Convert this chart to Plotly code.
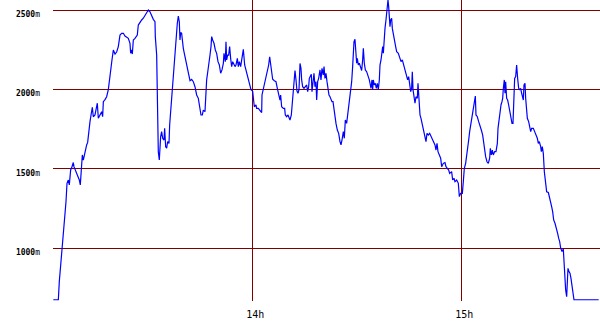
import plotly.graph_objects as go

# time in minutes after 13:00, altitude in metres
minutes = [
    2.88, 4.32, 4.60, 5.08, 5.56, 5.75, 6.04, 6.33, 6.52, 6.81, 7.19, 7.47, 7.86, 8.24, 8.62, 8.81,
    9.58, 10.35, 10.63, 10.92, 11.21, 11.49, 11.88, 12.45, 12.74, 13.03, 13.41, 13.79, 14.08, 14.36,
    14.84, 15.51, 15.80, 16.28, 16.76, 17.04, 17.24, 17.72, 18.19, 18.67, 18.96, 19.34, 19.72, 20.11,
    20.59, 21.06, 21.54, 22.02, 22.50, 22.98, 23.46, 24.41, 24.89, 25.08, 25.37, 25.56, 25.85, 26.33,
    26.61, 26.99, 27.28, 27.76, 28.24, 28.72, 29.20, 29.68, 30.16, 30.63,
    31.11, 31.59, 32.07, 32.16, 32.55, 32.74, 33.02, 33.31, 33.50, 33.69, 33.98, 34.27, 34.65, 34.84,
    35.13, 35.42, 35.70, 36.09, 36.28, 36.57, 36.85, 37.04, 37.33, 37.62, 37.90, 38.19, 38.48, 38.77,
    39.05, 39.24, 39.44, 39.72, 39.91, 40.20, 40.49, 40.78, 41.16, 41.45, 41.83, 42.12, 42.59, 43.07,
    43.55, 44.03, 44.51, 44.99, 45.27, 45.66, 45.94, 46.42, 46.61, 46.90, 47.19, 47.48, 47.86, 48.15,
    48.34, 48.62, 49.01, 49.39, 49.77, 50.16, 50.54, 50.92, 51.30, 51.69, 51.88, 52.26, 52.45, 52.64,
    52.93, 53.22, 53.50, 53.79, 54.08, 54.37, 54.75, 55.04, 55.32, 55.71, 55.99, 56.28, 56.66, 57.05,
    57.43, 57.81, 58.19, 58.58, 58.96, 59.34,
    59.63, 60.11, 60.30, 60.58, 61.06, 61.25, 61.73, 62.21, 62.69, 62.79, 63.17, 63.46, 63.84, 64.13,
    64.41, 64.70, 64.99, 65.27, 65.56, 65.85, 66.33, 66.80, 67.19, 67.57, 67.95, 68.14, 68.43, 68.91,
    69.29, 69.48, 69.87, 70.25, 70.63, 70.82, 71.21, 71.49, 71.78, 72.07, 72.26, 72.55, 72.83, 73.12,
    73.41, 73.70, 73.98, 74.17, 74.46, 74.84, 75.23, 75.61, 75.90, 76.18, 76.37, 76.66, 76.95, 77.14,
    77.43, 77.71, 78.00, 78.29, 78.48, 78.77, 79.05, 79.44, 79.72, 80.01, 80.39, 80.59, 80.87, 81.16,
    81.45, 81.73, 82.02, 82.31, 82.60, 82.88, 83.17, 83.46, 83.74, 84.03, 84.41, 84.80, 85.18, 85.47,
    85.75, 86.14, 86.42, 86.71, 87.09, 87.38, 87.67, 87.95,
    88.24, 88.53, 88.81, 89.20, 89.48, 89.68, 89.96, 90.15, 90.44, 90.73, 91.11, 91.40, 91.68, 91.88,
    92.16, 92.45, 92.83, 93.22, 93.60, 93.89, 94.08, 94.36, 94.56, 94.75, 95.03, 95.32, 95.61, 95.90,
    96.18, 96.47, 96.66, 96.95, 97.14, 97.43, 97.62, 97.81, 98.10, 98.38, 98.67, 98.96, 99.15, 99.34,
    99.53, 99.72, 100.01, 100.20, 100.49, 100.78, 101.16, 101.45, 101.92, 102.40, 102.69, 103.07,
    103.36, 103.65, 104.03, 104.32, 104.60, 104.89, 105.18, 105.47, 105.75, 105.94, 106.14, 106.42,
    106.71, 106.99, 107.38, 107.57, 107.76, 107.86, 108.15, 108.43, 108.72, 109.01, 109.29, 109.58,
    109.87, 110.15, 110.54, 110.92, 111.30, 111.69, 112.07, 112.45, 112.74, 113.03, 113.31, 113.70,
    114.08, 114.37, 114.84, 115.32, 115.61, 115.99, 116.38, 116.66,
    117.23, 117.52, 117.90, 118.19, 118.67, 119.15, 119.44, 119.82, 120.30, 120.58, 120.87, 121.25,
    121.54, 121.83, 122.12, 122.40, 122.69, 122.98, 123.26, 123.55, 123.84, 124.03, 124.22, 124.60,
    124.99, 125.37, 125.75, 126.13, 126.42, 126.71, 126.99, 127.38, 127.76, 128.14, 128.34, 128.62,
    128.91, 129.20, 129.58, 129.96, 130.35, 130.54, 130.82, 131.11, 131.40, 131.68, 131.88, 132.07,
    132.35, 132.55, 132.74, 133.02, 133.31, 133.60, 133.98, 134.27, 134.56, 134.84, 135.03, 135.32,
    135.61, 135.89, 136.18, 136.47, 136.76, 137.04, 137.33, 137.62, 137.81, 138.00, 138.29, 138.48,
    138.67, 138.96, 139.34, 139.63, 139.92, 140.20, 140.68, 141.06, 141.45, 141.83, 142.12, 142.40,
    142.79, 142.98, 143.26, 143.55, 143.84, 144.22, 144.51, 144.99,
    145.27, 145.66, 145.94, 146.23, 146.52, 146.90, 147.19, 147.38, 147.66, 147.95, 148.24, 148.53,
    148.91, 149.29, 149.48, 149.67, 149.96, 150.25, 150.44, 150.63, 150.92, 151.20, 151.49, 151.78,
    152.07, 152.35, 159.44,
]

altitude = [
    675, 675, 789, 915, 1000, 1073, 1167, 1199, 1293, 1409, 1430, 1399, 1493, 1514, 1540, 1514,
    1472, 1430, 1399, 1535, 1588, 1556, 1598, 1651, 1667, 1735, 1798, 1851, 1888, 1829,
    1840, 1914, 1819, 1840, 1861, 1829, 1924, 1937, 1955, 2000, 2061, 2124, 2187, 2250,
    2224, 2237, 2271, 2344, 2355, 2355, 2338, 2323, 2292, 2229, 2250, 2224, 2313, 2323,
    2334, 2344, 2407, 2428, 2439, 2450, 2470, 2481, 2502, 2491,
    2460, 2443, 2428, 2334, 2218, 1871, 1609, 1556, 1635, 1703, 1735, 1693, 1682, 1756,
    1640, 1630, 1672, 1661, 1777, 1861, 1955, 2029, 2103, 2176, 2260, 2365, 2418, 2464,
    2428, 2313, 2360, 2355, 2292, 2260, 2229, 2197, 2145, 2120, 2082, 2056, 2064, 2050,
    2018, 1966, 1945, 1892, 1840, 1840, 1871, 1861, 2000, 2061, 2108, 2145, 2218, 2271,
    2334, 2313, 2292, 2250, 2229, 2176, 2155, 2103, 2124, 2165, 2229, 2176, 2302, 2187,
    2218, 2218, 2271, 2197, 2145, 2176, 2155, 2145, 2155, 2197, 2145, 2176, 2145, 2197,
    2254, 2155, 2124, 2103, 2071, 2040,
    2000, 1990, 1934, 1892, 1903, 1882, 1882, 1871, 1855, 1966, 2000, 2029, 2071, 2092,
    2124, 2155, 2207, 2155, 2113, 2065, 2056, 2050, 2008, 1977, 1934, 1966, 1892, 1882,
    1882, 1840, 1829, 1840, 1819, 1808, 1840, 1914, 2018, 2061, 2120, 2061, 1990, 1977,
    2000, 2165, 2134, 2061, 2018, 2008, 2018, 2029, 1987, 2018, 2071, 2092, 2097, 1987,
    2040, 2103, 2018, 2050, 1934, 2050, 2071, 2124, 2061, 2134, 2092, 2145, 2071, 2103,
    2050, 2000, 1966, 1955, 1934, 1924, 1924, 1871, 1819, 1787, 1745, 1724, 1672, 1651,
    1682, 1735, 1693, 1808, 1787, 1840, 1861, 1914,
    2000, 2050, 2145, 2302, 2317, 2229, 2166, 2197, 2155, 2166, 2145, 2120, 2187, 2260,
    2166, 2124, 2113, 2092, 2061, 2029, 2008, 2061, 2000, 2061, 2029, 2040, 2008, 2040,
    2000, 2061, 2155, 2187, 2239, 2271, 2229, 2334, 2386, 2439, 2491, 2565, 2523, 2470,
    2397, 2439, 2449, 2386, 2344, 2302, 2271, 2239, 2229, 2197, 2176, 2187,
    2166, 2134, 2113, 2092, 2061, 2082, 2018, 1987, 2008, 2113, 2000, 1945,
    1914, 1955, 1945, 2040, 1955, 1892, 1840, 1819, 1787, 1766, 1735, 1714,
    1672, 1724, 1714, 1724, 1703, 1682, 1672, 1651, 1619, 1661, 1609, 1588,
    1567, 1514, 1535, 1540, 1514, 1504, 1493, 1472,
    1483, 1430, 1441, 1420, 1430, 1409, 1325, 1346, 1346, 1420, 1504, 1535,
    1598, 1640, 1682, 1735, 1777, 1819, 1861, 1903, 1934, 1959, 1840, 1829,
    1798, 1777, 1745, 1714, 1661, 1619, 1577, 1545, 1535, 1567, 1630, 1588,
    1619, 1588, 1609, 1609, 1661, 1756, 1819, 1871, 1903, 1924, 1945, 2008,
    2061, 1977, 2050, 1945, 1934, 1903, 1851, 1819, 1787, 1787, 1934, 2071,
    2082, 2155, 2071, 2008, 2000, 2008, 1977, 1945, 1934, 2029, 2040, 1945,
    1903, 1819, 1798, 1766, 1735, 1756, 1756, 1735, 1714, 1693, 1661, 1672,
    1640, 1609, 1640, 1598, 1482, 1409, 1356, 1351,
    1325, 1304, 1262, 1230, 1178, 1157, 1136, 1115, 1094, 1063, 1042, 1000,
    979, 994, 905, 800, 737, 694, 768, 873, 852, 842, 810, 758,
    716, 675, 675,
]

x_tick_vals = [60, 120]
x_tick_text = ["14h", "15h"]
y_tick_vals = [1000, 1500, 2000, 2500]
y_tick_text = [f"<b>{v}</b><span style='font-size:8px'>m</span>" for v in y_tick_vals]

fig = go.Figure(
    go.Scatter(
        x=minutes, y=altitude, mode="lines",
        line=dict(color="#0000ff", width=1.2),
        hoverinfo="skip",
    )
)

grid = "#800000"
fig.update_layout(
    width=600, height=330,
    margin=dict(l=53, r=0, t=0, b=29),
    paper_bgcolor="white", plot_bgcolor="white",
    showlegend=False,
    font=dict(family="DejaVu Sans Mono", color="black"),
)
fig.update_xaxes(
    range=[2.79, 159.82],
    tickvals=x_tick_vals, ticktext=x_tick_text,
    showgrid=True, gridcolor=grid, gridwidth=1,
    zeroline=False, showline=False, ticks="",
    tickfont=dict(size=10, family="DejaVu Sans Mono"),
    ticklabelstandoff=6,
    ticklabelshift=3,
)
fig.update_yaxes(
    range=[667, 2565],
    tickvals=y_tick_vals, ticktext=y_tick_text,
    showgrid=True, gridcolor=grid, gridwidth=1,
    zeroline=False, showline=False, ticks="",
    tickfont=dict(size=8, family="DejaVu Sans Mono"),
    ticklabelstandoff=12,
    ticklabelshift=4,
)

fig.write_html("out.html")
